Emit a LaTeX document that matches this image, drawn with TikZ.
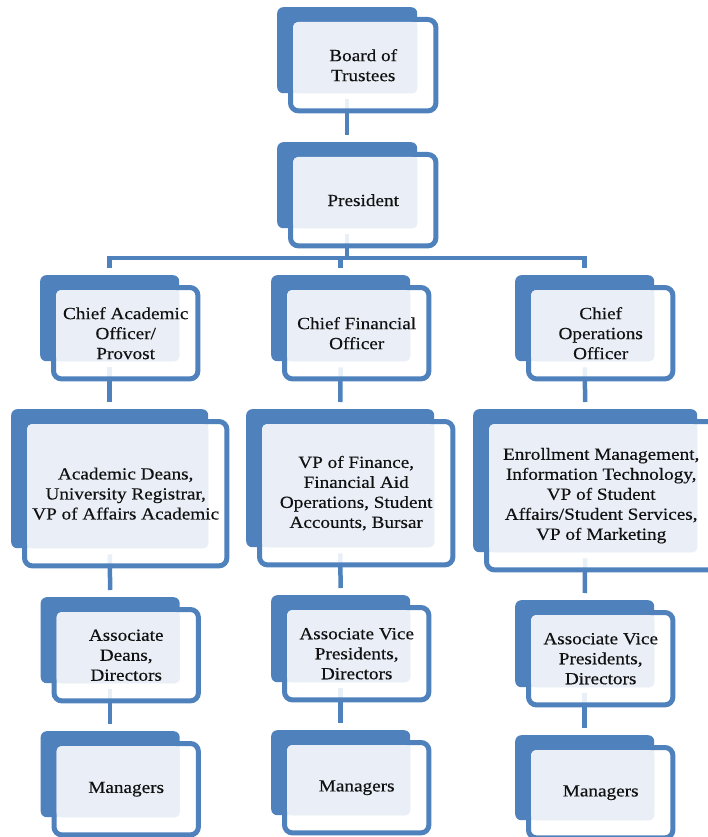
\documentclass[tikz,border=0pt]{standalone}
\usepackage{fontspec}
\setmainfont[FakeStretch=1.13, FakeBold=0.4]{Liberation Serif}
\usetikzlibrary{calc, backgrounds}
\definecolor{orgBlue}{HTML}{4F81BD}
\definecolor{orgTint}{HTML}{EAEFF7}
\definecolor{orgText}{HTML}{111111}

\tikzset{
  backbox/.style={fill=orgBlue, rounded corners=6pt, inner sep=0pt, draw=none},
  frontbox/.style={draw=orgBlue, line width=5pt, fill=white, fill opacity=0.88,
    rounded corners=8pt},
  tintbox/.style={fill=orgTint, rounded corners=5pt},
  unittext/.style={align=center, text=orgText, inner sep=0pt,
    font=\fontsize{17}{20}\selectfont},
  link/.style={draw=orgBlue, line width=4.5pt, shorten <=6pt, shorten >=7pt},
}

% unidad: nombre, x, y, ancho, alto, texto
\newcommand{\orgunit}[6]{%
  \node[backbox, minimum width=#4pt, minimum height=#5pt, anchor=north west]
    (#1) at (#2,#3) {};
  \path[frontbox] ($(#1.north west)+(13.5,12.5)$) rectangle ($(#1.south east)+(18.5,17.5)$);
  \path[tintbox] ($(#1.north west)+(16,15)$) rectangle (#1.south east);
  \node[unittext] (#1-t) at ($(#1.center)+(16,15)$) {#6};
}

\begin{document}
\begin{tikzpicture}[x=1pt, y=-1pt]
    \useasboundingbox (0,0) rectangle (708,837);
    \clip (0,0) rectangle (708,837);

    % consejo y presidencia
    \orgunit{board}{277}{7}{140}{86}{Board of\\Trustees}
    \orgunit{pres}{277}{142}{140}{86}{President}

    % directivos
    \orgunit{cao}{40}{275}{139}{86}{Chief Academic\\Officer/\\Provost}
    \orgunit{cfo}{271}{275}{139}{86}{Chief Financial\\Officer}
    \orgunit{coo}{515}{275}{139}{86}{Chief\\Operations\\Officer}

    % vicepresidencias
    \orgunit{acad}{11}{409}{197}{139}{Academic Deans,\\University Registrar,\\VP of Affairs Academic}
    \orgunit{fin}{246}{409}{188}{138}{VP of Finance,\\Financial Aid\\Operations, Student\\Accounts, Bursar}
    \orgunit{ops}{473}{409}{224}{143}{Enrollment Management,\\Information Technology,\\VP of Student\\Affairs/Student Services,\\VP of Marketing}

    % asociados
    \orgunit{assocA}{40.5}{597}{139}{86}{Associate\\Deans,\\Directors}
    \orgunit{assocF}{271}{595}{139}{87}{Associate Vice\\Presidents,\\Directors}
    \orgunit{assocO}{515}{600}{139}{87}{Associate Vice\\Presidents,\\Directors}

    % gerentes
    \orgunit{mgrA}{40.5}{731}{139}{86}{Managers}
    \orgunit{mgrF}{271}{730}{139}{85}{Managers}
    \orgunit{mgrO}{515}{735}{139}{85}{Managers}

    % conectores
    \coordinate (bus) at (0,258);
    \begin{scope}[on background layer]
      \draw[link] (board.south) -- (pres.north);
      \draw[link, shorten >=0pt] (pres.south) -- (pres.south |- bus);
      \draw[link, shorten <=7pt] (cao.north) -- (cao.north |- bus)
        -- (coo.north |- bus) -- (coo.north);
      \draw[link, shorten <=0pt] (cfo.north |- bus) -- (cfo.north);
      \draw[link] (cao.south) -- (acad.north);
      \draw[link] (cfo.south) -- (fin.north);
      \draw[link] (coo.south) -- (ops.north);
      \draw[link] (acad.south) -- (assocA.north);
      \draw[link] (fin.south) -- (assocF.north);
      \draw[link] (ops.south) -- (assocO.north);
      \draw[link] (assocA.south) -- (mgrA.north);
      \draw[link] (assocF.south) -- (mgrF.north);
      \draw[link] (assocO.south) -- (mgrO.north);
    \end{scope}
  \end{tikzpicture}
\end{document}
